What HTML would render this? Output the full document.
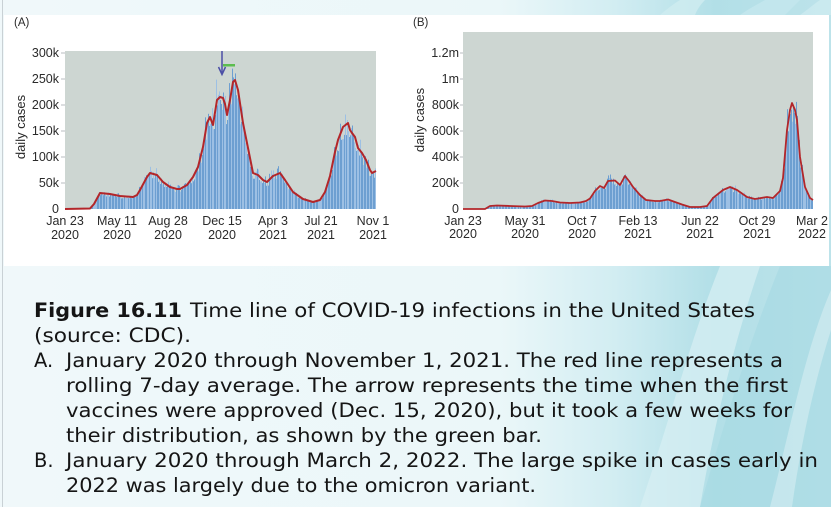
<!DOCTYPE html>
<html><head><meta charset="utf-8"><style>
html,body{margin:0;padding:0;width:831px;height:507px;overflow:hidden;background:#eff8fa;}
svg{display:block;}
.tk{font-family:"Liberation Sans",Arial,sans-serif;font-size:12.5px;fill:#2a2a2a;}
.cap{font-family:"DejaVu Sans","Liberation Sans",sans-serif;font-size:19.5px;fill:#151515;}
</style></head><body>
<svg id="s" width="831" height="507" viewBox="0 0 831 507" xmlns="http://www.w3.org/2000/svg">
<defs>
<linearGradient id="bg" x1="0" y1="0" x2="1" y2="0">
<stop offset="0" stop-color="#f0f8fa"/>
<stop offset="0.6" stop-color="#ebf7f9"/>
<stop offset="0.74" stop-color="#d2edf2"/>
<stop offset="0.86" stop-color="#b2dfe7"/>
<stop offset="1" stop-color="#bde3ea"/>
</linearGradient>
</defs>
<rect x="0" y="0" width="831" height="507" fill="url(#bg)"/>
<path d="M640 507 C 670 420, 690 340, 720 266 L 760 266 C 735 340, 715 420, 700 507 Z" fill="#d9f0f4" opacity="0.7"/>
<path d="M700 507 C 725 420, 750 340, 780 266 L 831 266 L 831 507 Z" fill="#a4d8e2" opacity="0.55"/>
<path d="M770 507 C 790 430, 805 350, 831 290 L 831 330 C 812 390, 800 450, 792 507 Z" fill="#ffffff" opacity="0.3"/>
<path d="M660 15 C 668 8, 675 3, 680 0 L 705 0 C 700 5, 697 10, 695 15 Z" fill="#cdebf0" opacity="0.9"/>
<path d="M740 15 C 750 8, 760 3, 765 0 L 800 0 C 795 5, 790 10, 785 15 Z" fill="#c3e7ed" opacity="0.9"/>
<path d="M800 15 C 810 8, 815 3, 820 0 L 831 0 L 831 15 Z" fill="#cbeaef" opacity="0.9"/>
<rect x="2" y="0" width="1" height="507" fill="#c9d1d5"/>
<rect x="4" y="15" width="825" height="251" fill="#ffffff"/>

<!-- Chart A -->
<text class="tk" x="14" y="26" style="font-size:11.5px">(A)</text>
<rect x="65" y="51" width="311" height="158" fill="#cdd6d2"/>
<g id="barsA"></g>
<polyline id="lineA" fill="none" stroke="#b3262a" stroke-width="2" stroke-linejoin="round"/>
<g stroke="#b8bec0" stroke-width="1">
<line x1="61" y1="53" x2="65" y2="53"/><line x1="61" y1="79" x2="65" y2="79"/><line x1="61" y1="105" x2="65" y2="105"/><line x1="61" y1="131" x2="65" y2="131"/><line x1="61" y1="157" x2="65" y2="157"/><line x1="61" y1="183" x2="65" y2="183"/>
</g>
<g class="tk" text-anchor="end">
<text x="59" y="57">300k</text><text x="59" y="83">250k</text><text x="59" y="109">200k</text><text x="59" y="135">150k</text><text x="59" y="161">100k</text><text x="59" y="187">50k</text><text x="59" y="213">0</text>
</g>
<text class="tk" transform="translate(25,127) rotate(-90)" text-anchor="middle" style="font-size:13px">daily cases</text>
<g class="tk" text-anchor="middle">
<text x="65" y="225">Jan 23</text><text x="65" y="239">2020</text>
<text x="117" y="225">May 11</text><text x="117" y="239">2020</text>
<text x="168" y="225">Aug 28</text><text x="168" y="239">2020</text>
<text x="222" y="225">Dec 15</text><text x="222" y="239">2020</text>
<text x="273" y="225">Apr 3</text><text x="273" y="239">2021</text>
<text x="321" y="225">Jul 21</text><text x="321" y="239">2021</text>
<text x="373" y="225">Nov 1</text><text x="373" y="239">2021</text>
</g>
<line x1="222" y1="51" x2="222" y2="74" stroke="#4b4fa6" stroke-width="1.5"/>
<polyline points="218.5,67 222,74.5 225.5,67" fill="none" stroke="#4b4fa6" stroke-width="1.5"/>
<rect x="223" y="64" width="12" height="2.5" fill="#5cbd4f"/>

<!-- Chart B -->
<text class="tk" x="413" y="26" style="font-size:11.5px">(B)</text>
<rect x="463" y="32" width="350" height="177" fill="#cdd6d2"/>
<g id="barsB"></g>
<polyline id="lineB" fill="none" stroke="#b3262a" stroke-width="1.8" stroke-linejoin="round"/>
<g stroke="#b8bec0" stroke-width="1">
<line x1="460" y1="53" x2="463" y2="53"/><line x1="460" y1="79" x2="463" y2="79"/><line x1="460" y1="105" x2="463" y2="105"/><line x1="460" y1="131" x2="463" y2="131"/><line x1="460" y1="157" x2="463" y2="157"/><line x1="460" y1="183" x2="463" y2="183"/>
</g>
<g class="tk" text-anchor="end">
<text x="459" y="57">1.2m</text><text x="459" y="83">1m</text><text x="459" y="109">800k</text><text x="459" y="135">600k</text><text x="459" y="161">400k</text><text x="459" y="187">200k</text><text x="459" y="213">0</text>
</g>
<text class="tk" transform="translate(424,120) rotate(-90)" text-anchor="middle" style="font-size:13px">daily cases</text>
<g class="tk" text-anchor="middle">
<text x="463" y="225">Jan 23</text><text x="463" y="238">2020</text>
<text x="525" y="225">May 31</text><text x="525" y="238">2020</text>
<text x="582" y="225">Oct 7</text><text x="582" y="238">2020</text>
<text x="638" y="225">Feb 13</text><text x="638" y="238">2021</text>
<text x="700" y="225">Jun 22</text><text x="700" y="238">2021</text>
<text x="757" y="225">Oct 29</text><text x="757" y="238">2021</text>
<text x="812" y="225">Mar 2</text><text x="812" y="238">2022</text>
</g>

<!-- Caption -->
<g class="cap" xml:space="preserve">
<text x="34" y="317" font-weight="bold" textLength="148" lengthAdjust="spacingAndGlyphs">Figure 16.11</text>
<text x="190" y="317" textLength="565" lengthAdjust="spacingAndGlyphs">Time line of COVID-19 infections in the United States</text>
<text x="34" y="342" textLength="157" lengthAdjust="spacingAndGlyphs">(source: CDC).</text>
<text x="34" y="367">A.</text>
<text x="66" y="367" textLength="717" lengthAdjust="spacingAndGlyphs">January 2020 through November 1, 2021. The red line represents a</text>
<text x="66" y="392" textLength="722" lengthAdjust="spacingAndGlyphs">rolling 7-day average.  The arrow represents the time when the first</text>
<text x="66" y="417" textLength="726" lengthAdjust="spacingAndGlyphs">vaccines were approved (Dec. 15, 2020), but it took a few weeks for</text>
<text x="66" y="442" textLength="476" lengthAdjust="spacingAndGlyphs">their distribution, as shown by the green bar.</text>
<text x="34" y="467">B.</text>
<text x="66" y="467" textLength="752" lengthAdjust="spacingAndGlyphs">January 2020 through March 2, 2022.  The large spike in cases early in</text>
<text x="66" y="492" textLength="470" lengthAdjust="spacingAndGlyphs">2022 was largely due to the omicron variant.</text>
</g>
</svg>
<script>
(function(){
var seed=12345;
function rnd(){seed=(seed*1103515245+12345)%2147483648;return seed/2147483648;}
function interp(p,x){
  if(x<=p[0][0])return p[0][1];
  for(var i=1;i<p.length;i++){
    if(x<=p[i][0]){var a=p[i-1],b=p[i];var t=(x-a[0])/(b[0]-a[0]);return a[1]+t*(b[1]-a[1]);}
  }
  return p[p.length-1][1];
}
var A=[[65,209],[90,208.5],[94,204],[100,193],[110,194],[120,196],[133,197],[137,195],[140,190],[147,177],[150,173],[157,175],[163,182],[170,187],[177,189],[180,189],[187,185],[193,177],[198,167],[203,147],[207,123],[210,117],[213,125],[217,100],[220,97],[223,98],[225,104],[227,115],[230,100],[233,82],[235,80],[238,90],[243,123],[248,148],[253,173],[258,175],[263,180],[267,182],[273,176],[280,173],[285,180],[293,192],[303,199],[313,202],[320,200],[325,192],[330,176],[335,152],[338,140],[343,127],[348,123],[350,130],[352,133],[355,137],[358,148],[362,153],[366,160],[370,170],[372,173],[376,171]];
var B=[[463,209],[485,209],[490,206],[497,205.5],[510,206],[525,206.5],[532,206],[538,203],[545,200.5],[552,201],[560,202.5],[570,203],[580,202.5],[586,201],[590,198.5],[595,191],[600,186],[604,188],[608,181],[615,180.5],[620,185],[625,176],[629,181],[633,187],[640,195],[646,200],[655,201],[660,201],[668,199.5],[675,202],[682,204.5],[690,207],[700,207],[707,206],[713,198],[723,190],[730,187],[737,190],[747,197],[755,199],[767,197],[773,198],[780,191],[783,178],[787,130],[790,110],[792,103],[795,110],[797,120],[800,157],[805,187],[810,198],[813,200]];
function bars(id,p,x0,x1,base){
  var g=document.getElementById(id);var html="";
  for(var x=x0;x<x1;x++){
    var ly=interp(p,x+0.5);var h=base-ly;
    var f=0.82+0.26*rnd();
    if(rnd()>0.82)f=1.03+0.2*rnd();
    var bh=Math.max(0,h*f);
    var light=(x%3===0)||rnd()>0.85;
    html+='<rect x="'+x+'" y="'+(base-bh).toFixed(1)+'" width="1" height="'+bh.toFixed(1)+'" fill="'+(light?'#9dc0e4':'#6d9fd1')+'"/>';
  }
  g.innerHTML=html;
}
function line(id,p){
  var s="";for(var i=0;i<p.length;i++){s+=p[i][0]+","+p[i][1]+" ";}
  document.getElementById(id).setAttribute("points",s);
}
bars("barsA",A,66,376,209);
bars("barsB",B,464,813,209);
line("lineA",A);line("lineB",B);
})();
</script>
</body></html>
